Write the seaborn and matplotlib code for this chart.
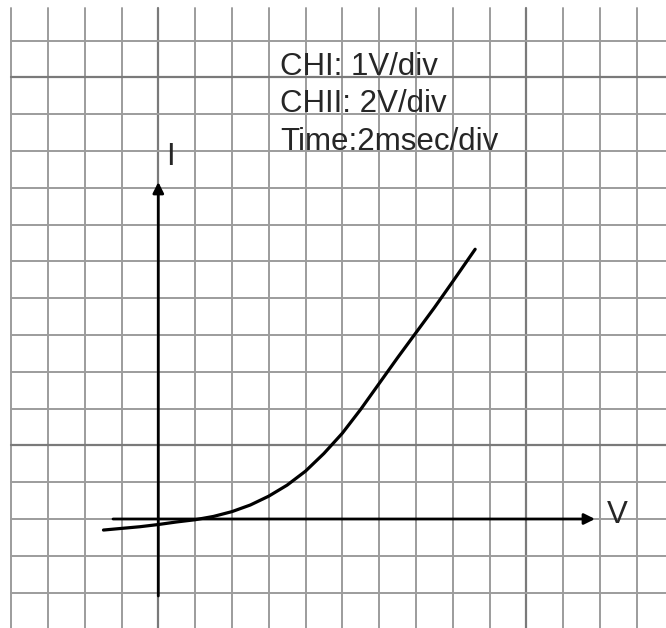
import numpy as np
import pandas as pd
import seaborn as sns
import matplotlib.pyplot as plt

# I-V curve (grid divisions, origin at the axes crossing)
v_data = [-1.49, -0.5, 0.0, 0.5, 1.0, 1.5, 2.0, 2.5, 3.0, 3.5,
          4.0, 4.5, 5.0, 5.5, 6.0, 6.5, 7.0, 7.5, 8.0, 8.61]
i_data = [-0.30, -0.21, -0.15, -0.08, -0.02, 0.07, 0.20, 0.38, 0.62, 0.92,
          1.30, 1.78, 2.33, 2.98, 3.68, 4.38, 5.06, 5.74, 6.45, 7.33]

settings = ["CHI: 1V/div", "CHII: 2V/div", "Time:2msec/div"]
axis_labels = ["I", "V"]

curve = pd.DataFrame({"V": v_data, "I": i_data})

sns.set_style("white")
plt.rcParams['font.family'] = ['Liberation Sans', 'DejaVu Sans']

fig = plt.figure(figsize=(6.66, 6.28), dpi=100)
ax = fig.add_axes([0, 0, 1, 1])

# pixel -> grid units: origin at (158.3, 519), one division = 36.8 px
unit = 36.8
ax.set_xlim(-158.3 / unit, (666 - 158.3) / unit)
ax.set_ylim((519 - 628) / unit, 519 / unit)

# graph paper
top = (519 - 8) / unit
for u in range(-4, 14):
    dark = u in (0, 10)
    ax.plot([u, u], [-3, top], color="#7a7a7a" if dark else "#9c9c9c",
            lw=1.6 if dark else 1.4, zorder=1)
for v in range(-2, 14):
    dark = v in (2, 12)
    ax.plot([-4, 14], [v, v], color="#7a7a7a" if dark else "#9c9c9c",
            lw=1.6 if dark else 1.4, zorder=1)

# axes with arrows
arrow = dict(arrowstyle="-|>", lw=2.0, color="black", mutation_scale=16,
             shrinkA=0, shrinkB=0)
ax.annotate("", xy=(0, (519 - 182) / unit), xytext=(0, (519 - 596) / unit),
            arrowprops=arrow, zorder=3)
ax.annotate("", xy=((595 - 158.3) / unit, 0), xytext=((113 - 158.3) / unit, 0),
            arrowprops=arrow, zorder=3)

sns.lineplot(data=curve, x="V", y="I", sort=False, estimator=None,
             color="black", lw=2.3, ax=ax, zorder=4)
ax.axis("off")

for k, s in enumerate(settings):
    ax.text(3.32, 12.07 - 1.02 * k, s, fontsize=22.5, ha="left", va="baseline", zorder=5)
ax.text(0.21, 9.62, axis_labels[0], fontsize=22.5, ha="left", va="baseline", zorder=5)
ax.text(12.18, -0.11, axis_labels[1], fontsize=22.5, ha="left", va="baseline", zorder=5)

fig.savefig("out.png", dpi=100)
